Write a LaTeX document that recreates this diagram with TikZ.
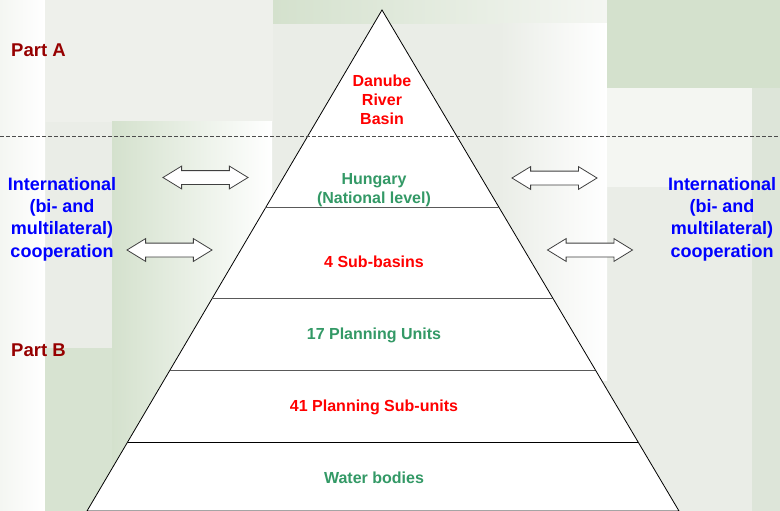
\documentclass[tikz,border=0pt]{standalone}
\usepackage{fontspec}
\setmainfont{Liberation Sans}
\usetikzlibrary{shapes.arrows, calc, positioning}

\definecolor{bgbase}{RGB}{234,237,231}
\definecolor{bgtop}{RGB}{238,240,235}
\definecolor{bggreen}{RGB}{212,225,205}
\definecolor{bglight}{RGB}{244,246,242}
\definecolor{bgstrip}{RGB}{221,229,217}
\definecolor{partred}{RGB}{150,0,0}
\definecolor{lvlred}{RGB}{255,0,0}
\definecolor{lvlgreen}{RGB}{51,153,102}
\definecolor{coopblue}{RGB}{0,0,255}

\begin{document}
\begin{tikzpicture}[x=1pt, y=-1pt,
    levellabel/.style={font=\fontsize{16}{19}\selectfont\bfseries, align=center, inner sep=0pt},
    partlabel/.style={font=\fontsize{18.5}{22}\selectfont\bfseries, text=partred, inner sep=0pt, anchor=base west},
    cooplabel/.style={font=\fontsize{18}{22.3}\selectfont\bfseries, text=coopblue, align=center, inner sep=0pt, anchor=north},
    linkarrow/.style={double arrow, draw=black!75, fill=white, line width=0.8pt, minimum width=0pt, minimum height=85pt, double arrow head extend=4.5pt, double arrow tip angle=63, inner xsep=0pt, inner ysep=6.5pt},
    levelline/.style={draw=black!65, line width=1pt},
    pyramid/.style={draw=black, fill=white, line width=0.8pt}
]
\useasboundingbox (0,0) rectangle (780,511);

% background
\fill[bgbase] (0,0) rectangle (780,511);
\shade[left color=bglight, right color=white] (0,0) rectangle (45,511);
\fill[bgtop] (45,0) rectangle (273,122);
\shade[left color=bggreen, right color=white] (112,122) rectangle (272,511);
\fill[bggreen!85!bgbase] (45,348) rectangle (112,511);
\shade[left color=bggreen, right color=bglight] (273,0) rectangle (607,24);
\shade[left color=bgbase, right color=white] (500,24) rectangle (607,380);
\fill[bggreen] (607,0) rectangle (780,88);
\fill[bglight] (607,88) rectangle (752,187);
\fill[bgstrip] (752,88) rectangle (780,511);

% pyramid
\coordinate (apex) at (382,10);
\coordinate (bl) at (87,511);
\coordinate (br) at (679,511);
\draw[pyramid] (apex) -- (bl) -- (br) -- cycle;

\coordinate (l1) at ($(apex)!0.3952!(bl)$);
\coordinate (r1) at ($(apex)!0.3952!(br)$);
\coordinate (l2) at ($(apex)!0.5749!(bl)$);
\coordinate (r2) at ($(apex)!0.5749!(br)$);
\coordinate (l3) at ($(apex)!0.7186!(bl)$);
\coordinate (r3) at ($(apex)!0.7186!(br)$);
\coordinate (l4) at ($(apex)!0.8623!(bl)$);
\coordinate (r4) at ($(apex)!0.8623!(br)$);
\draw[levelline] (l1) -- (r1);
\draw[levelline] (l2) -- (r2);
\draw[levelline] (l3) -- (r3);
\draw[levelline, draw=black] (l4) -- (r4);

% part A / part B border
\coordinate (sepW) at (0,136);
\coordinate (sepE) at (780,136);
\draw[black!70, line width=1pt, dash pattern=on 4pt off 2pt] (sepW) -- (sepE);

% levels
\node[levellabel, text=lvlred, anchor=north] (danube) at (382,75) {Danube\\River\\Basin};
\node[levellabel, text=lvlgreen, anchor=north] (hungary) at (374,173) {Hungary\\(National level)};
\node[levellabel, text=lvlred, anchor=base] (subbasin) at (374,267.5) {4 Sub-basins};
\node[levellabel, text=lvlgreen, anchor=base] (units) at (374,339) {17 Planning Units};
\node[levellabel, text=lvlred, anchor=base] (subunits) at (374,411.5) {41 Planning Sub-units};
\node[levellabel, text=lvlgreen, anchor=base] (water) at (374,483.5) {Water bodies};

\node[partlabel] (partA) at (11,56.5) {Part A};
\node[partlabel] (partB) at (11,356) {Part B};

\node[cooplabel] (coopL) at (62,177) {International\\(bi- and\\multilateral)\\cooperation};
\node[cooplabel] (coopR) at (722,177) {International\\(bi- and\\multilateral)\\cooperation};

% links
\node[linkarrow] (arrLa) at (205.5,177.5) {};
\node[linkarrow] (arrLb) at (169.5,250) {};
\node[linkarrow] (arrRa) at (554.5,178) {};
\node[linkarrow] (arrRb) at (590,250) {};

\end{tikzpicture}
\end{document}
